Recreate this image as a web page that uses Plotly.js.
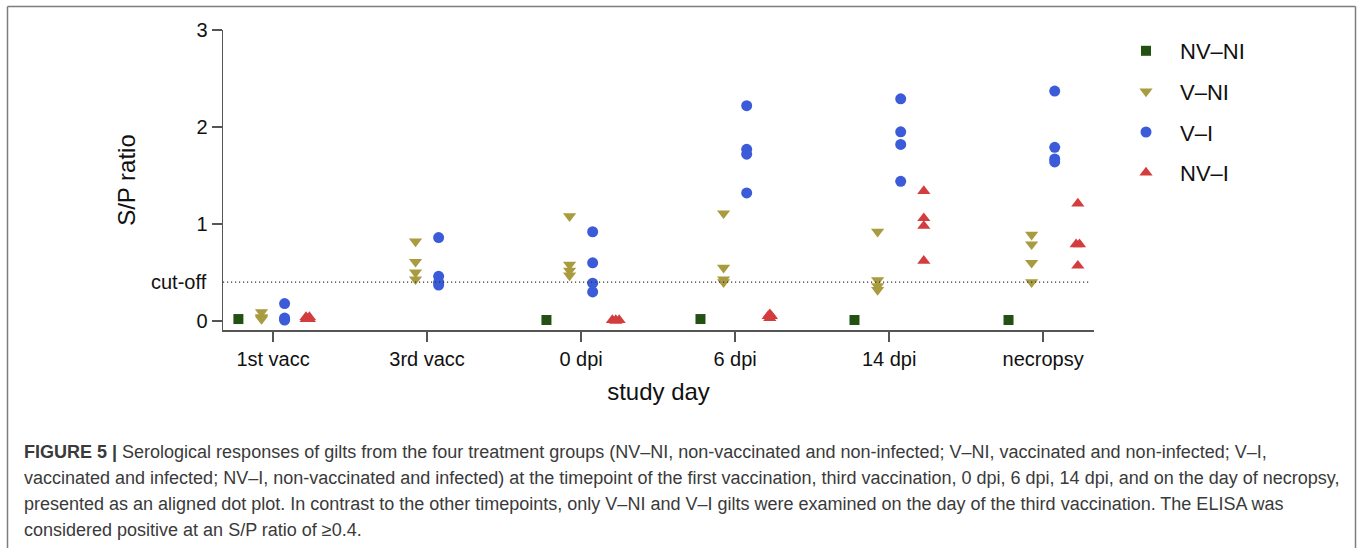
<!DOCTYPE html>
<html><head><meta charset="utf-8">
<script src="https://cdn.plot.ly/plotly-3.0.1.min.js"></script>
<style>html,body{margin:0;padding:0;background:#fff;overflow:hidden;} #chart{width:1357px;height:548px;}</style>
</head><body><div id="chart"></div>
<script>
// ---- data ----
const timepoints = ["1st vacc", "3rd vacc", "0 dpi", "6 dpi", "14 dpi", "necropsy"];
const groupNames = ["NV–NI", "V–NI", "V–I", "NV–I"];
const nvNi = [[0.02], [], [0.01], [0.02], [0.01], [0.01]];
const vNi  = [[0.09, 0.04, 0.03, 0.02], [0.82, 0.61, 0.50, 0.43], [1.08, 0.58, 0.52, 0.47],
              [1.11, 0.55, 0.43, 0.40], [0.92, 0.42, 0.36, 0.32], [0.89, 0.79, 0.60, 0.40]];
const vI   = [[0.18, 0.03, 0.02, 0.01], [0.86, 0.46, 0.40, 0.37], [0.92, 0.60, 0.39, 0.30],
              [2.22, 1.77, 1.72, 1.32], [2.29, 1.95, 1.82, 1.44], [2.37, 1.79, 1.67, 1.64]];
const nvI  = [[0.04, 0.04, 0.02, 0.02], [], [0.01, 0.01, 0.01, 0.00],
              [0.07, 0.05, 0.05, 0.03], [1.34, 1.06, 0.98, 0.62], [1.21, 0.79, 0.79, 0.57]];
const cutoff = 0.4;
const yTicks = [0, 1, 2, 3];
const captionLines = [
  "<b>FIGURE 5 |</b> Serological responses of gilts from the four treatment groups (NV–NI, non-vaccinated and non-infected; V–NI, vaccinated and non-infected; V–I,",
  "vaccinated and infected; NV–I, non-vaccinated and infected) at the timepoint of the first vaccination, third vaccination, 0 dpi, 6 dpi, 14 dpi, and on the day of necropsy,",
  "presented as an aligned dot plot. In contrast to the other timepoints, only V–NI and V–I gilts were examined on the day of the third vaccination. The ELISA was",
  "considered positive at an S/P ratio of ≥0.4."
];

// ---- geometry / style ----
const W = 1357, H = 548, ml = 223, mr = 263, mt = 30, mb = 218;
const pw = W - ml - mr, ph = H - mt - mb;
const px2x = p => (p - ml) / pw;
const px2y = p => (H - mb - p) / ph;
const FONT = '"Liberation Sans", Arial, Helvetica, sans-serif';

const styles = [
  {vals: nvNi, symbol: "square", color: "#235112", size: 10},
  {vals: vNi, symbol: "triangle-down", color: "#a99b3f", size: 11.5},
  {vals: vI, symbol: "circle", color: "#3b5bd8", size: 11},
  {vals: nvI, symbol: "triangle-up", color: "#d43d3d", size: 11.5}
];
const groupStep = 0.15, dodgeStep = 0.022;

function dodge(vals, base) {
  const out = new Array(vals.length), used = new Array(vals.length).fill(false);
  for (let i = 0; i < vals.length; i++) {
    if (used[i]) continue;
    const idx = [];
    for (let j = i; j < vals.length; j++) {
      if (!used[j] && Math.abs(vals[j] - vals[i]) < 0.005) { idx.push(j); used[j] = true; }
    }
    idx.forEach((j, k) => { out[j] = base + (k - (idx.length - 1) / 2) * dodgeStep; });
  }
  return out;
}

const traces = styles.map((g, gi) => {
  const x = [], y = [];
  g.vals.forEach((arr, ti) => {
    const xs = dodge(arr, ti + (gi - 1.5) * groupStep);
    arr.forEach((v, k) => { x.push(xs[k]); y.push(v); });
  });
  return {
    type: "scatter", mode: "markers", name: groupNames[gi], x: x, y: y,
    legendgroup: "g" + gi, hoverinfo: "y+name",
    marker: {symbol: g.symbol, color: g.color, size: g.size}
  };
});

const axisCommon = {
  showline: true, linecolor: "#555", linewidth: 1.5,
  ticks: "outside", ticklen: 10, tickwidth: 1.5, tickcolor: "#555",
  showgrid: false, zeroline: false, fixedrange: true,
  tickfont: {family: FONT, size: 20, color: "#111"}
};

const frameColor = "#7d7d7d";
const shapes = [
  {type: "line", xref: "x", yref: "y", x0: -0.325, x1: 5.305, y0: cutoff, y1: cutoff,
   line: {color: "#333", width: 1.2, dash: "1.2px,2.8px"}},
  {type: "line", xref: "paper", yref: "paper", x0: px2x(7.5), x1: px2x(7.5), y0: px2y(6.5), y1: px2y(560),
   line: {color: frameColor, width: 1.5}},
  {type: "line", xref: "paper", yref: "paper", x0: px2x(7.5), x1: px2x(1355.5), y0: px2y(6.5), y1: px2y(6.5),
   line: {color: frameColor, width: 1.5}},
  {type: "line", xref: "paper", yref: "paper", x0: px2x(1355.5), x1: px2x(1355.5), y0: px2y(6.5), y1: px2y(560),
   line: {color: frameColor, width: 1.5}}
];

const captionY = [452, 478, 504, 530];
const annotations = [
  {text: "cut-off", xref: "paper", yref: "y", x: px2x(209), y: cutoff, xanchor: "right", yanchor: "middle",
   showarrow: false, font: {family: FONT, size: 20, color: "#111"}}
].concat(captionLines.map((t, i) => ({
  text: t, xref: "paper", yref: "paper", x: px2x(22), y: px2y(captionY[i]),
  xanchor: "left", yanchor: "middle", align: "left", showarrow: false,
  font: {family: FONT, size: 18, color: "#3a3a3a"}
})));

const layout = {
  width: W, height: H,
  margin: {l: ml, r: mr, t: mt, b: mb, pad: 0},
  paper_bgcolor: "#fff", plot_bgcolor: "#fff",
  font: {family: FONT, color: "#111"},
  xaxis: Object.assign({}, axisCommon, {
    type: "linear", range: [-0.325, 5.33], tickmode: "array",
    tickvals: timepoints.map((_, i) => i), ticktext: timepoints,
    title: {text: "study day", font: {family: FONT, size: 24, color: "#111"}, standoff: 14}
  }),
  yaxis: Object.assign({}, axisCommon, {
    range: [-0.093, 3], tickmode: "array", tickvals: yTicks, ticktext: yTicks.map(String),
    title: {text: "S/P ratio", font: {family: FONT, size: 24, color: "#111"}, standoff: 54}
  }),
  showlegend: true,
  legend: {
    x: px2x(1112), y: px2y(30), xanchor: "left", yanchor: "top",
    font: {family: FONT, size: 22, color: "#111"},
    itemwidth: 58, traceorder: "grouped", tracegroupgap: 9,
    bgcolor: "rgba(0,0,0,0)", borderwidth: 0
  },
  shapes: shapes,
  annotations: annotations
};

Plotly.newPlot("chart", traces, layout, {displayModeBar: false, staticPlot: true});
</script>
</body></html>
